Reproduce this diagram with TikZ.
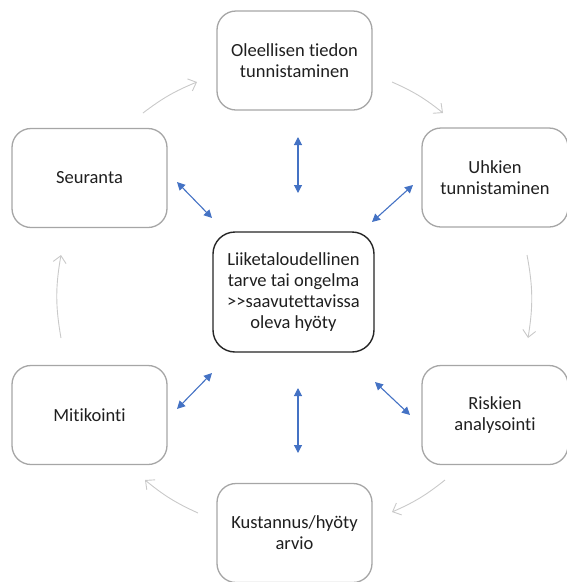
\documentclass[tikz,border=0pt]{standalone}
\usepackage{fontspec}
\setmainfont{Carlito}[Ligatures={NoCommon,NoDiscretionary,NoRare}]
\usetikzlibrary{arrows.meta}
\definecolor{boxgrey}{HTML}{A6A6A6}
\definecolor{cyclegrey}{HTML}{C9C9C9}
\definecolor{linkblue}{HTML}{4472C4}
\tikzset{
  stagebox/.style={draw=boxgrey, line width=1.3pt, rounded corners=19pt, fill=white,
    minimum width=155pt, minimum height=99pt, align=center, inner sep=2pt,
    font=\fontsize{18.5}{21}\selectfont, text=black!88},
  corebox/.style={draw=black!85, line width=1.4pt, rounded corners=22pt, fill=white,
    minimum width=161pt, minimum height=120pt, align=center, inner sep=2pt,
    font=\fontsize{18.5}{20.8}\selectfont, text=black!88},
  link/.style={draw=linkblue, line width=1.1pt,
    {Triangle[length=8pt,width=8pt]}-{Triangle[length=8pt,width=8pt]}},
  cycle/.style={draw=cyclegrey, line width=0.9pt,
    -{Straight Barb[length=7pt,width=13pt,line width=0.9pt]}}
}
\begin{document}
\begin{tikzpicture}[x=1pt,y=-1pt]
\useasboundingbox (0,0) rectangle (567,582);

% process stages
\node[stagebox] (tieto) at (294.5,60.5) {Oleellisen tiedon\\tunnistaminen};
\node[stagebox, minimum width=146pt] (uhkat) at (495,177.5) {Uhkien\\tunnistaminen};
\node[stagebox, minimum width=146pt] (riskit) at (495,415) {Riskien\\analysointi};
\node[stagebox] (arvio) at (294.5,533) {Kustannus/hyöty\\arvio};
\node[stagebox] (mitik) at (89.5,415) {Mitikointi};
\node[stagebox] (seur) at (89.5,178) {Seuranta};

% central goal
\node[corebox] (ydin) at (293.5,292) {Liiketaloudellinen\\tarve tai ongelma\\>{}>saavutettavissa\\oleva hyöty};

% end points of the two-way links
\coordinate (t1) at (298,137);  \coordinate (t2) at (298,193);
\coordinate (ul1) at (177,182); \coordinate (ul2) at (212,218);
\coordinate (ur1) at (413,185); \coordinate (ur2) at (372,222);
\coordinate (lr1) at (375,382); \coordinate (lr2) at (410,415);
\coordinate (ll1) at (212,373); \coordinate (ll2) at (177,409);
\coordinate (b1) at (298,388);  \coordinate (b2) at (298,453);

\draw[link] (t1) -- (t2);
\draw[link] (ul1) -- (ul2);
\draw[link] (ur1) -- (ur2);
\draw[link] (lr1) -- (lr2);
\draw[link] (ll1) -- (ll2);
\draw[link] (b1) -- (b2);

% end points of the cycle arrows
\coordinate (c1a) at (143,113); \coordinate (c1b) at (197,82);
\coordinate (c2a) at (392,82);  \coordinate (c2b) at (443,113);
\coordinate (c3a) at (527,255); \coordinate (c3b) at (528,338);
\coordinate (c4a) at (445,480); \coordinate (c4b) at (392,512);
\coordinate (c5a) at (198,513); \coordinate (c5b) at (145,480);
\coordinate (c6a) at (61,338);  \coordinate (c6b) at (61,255);

\draw[cycle] (c1a) to[bend left=7.5] (c1b);
\draw[cycle] (c2a) to[bend left=7.5] (c2b);
\draw[cycle] (c3a) to[bend left=10] (c3b);
\draw[cycle] (c4a) to[bend left=7.5] (c4b);
\draw[cycle] (c5a) to[bend left=7.5] (c5b);
\draw[cycle] (c6a) to[bend left=10] (c6b);
\end{tikzpicture}
\end{document}
